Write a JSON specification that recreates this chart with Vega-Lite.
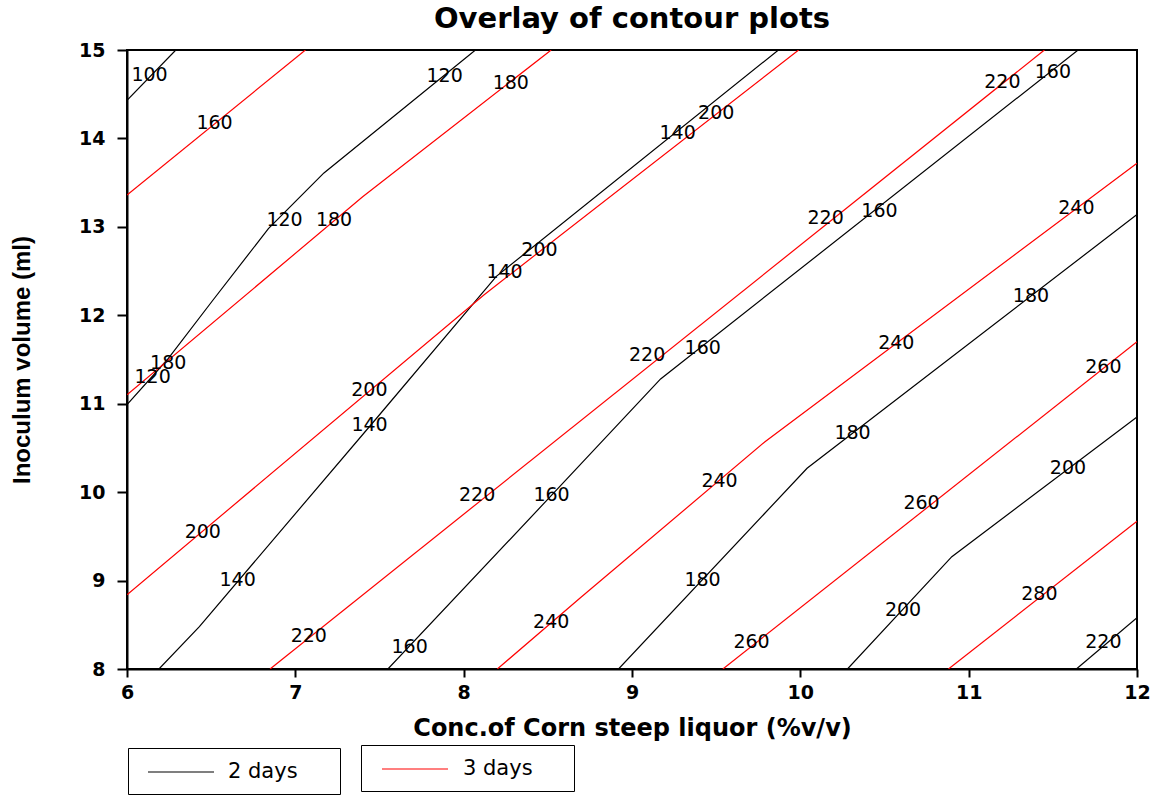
{
  "$schema": "https://vega.github.io/schema/vega-lite/v6.json",
  "width": 1010,
  "height": 619,
  "autosize": "none",
  "padding": {"left": 127, "top": 50, "right": 24, "bottom": 126},
  "background": "white",
  "title": {"text": "Overlay of contour plots", "font": "DejaVu Sans", "fontSize": 29, "fontWeight": "bold", "anchor": "middle", "offset": 7, "color": "black"},
  "config": {
    "view": {"stroke": "black", "strokeWidth": 2},
    "axis": {
      "grid": false,
      "domainColor": "black",
      "domainWidth": 2,
      "tickColor": "black",
      "tickWidth": 2,
      "labelColor": "black",
      "labelFont": "DejaVu Sans",
      "labelFontWeight": "bold",
      "labelFontSize": 19,
      "titleColor": "black",
      "titleFontWeight": "bold"
    }
  },
  "datasets": {
    "black": [
      {"id": "b100", "o": 0, "x": 6, "y": 14.43}, {"id": "b100", "o": 1, "x": 6.29, "y": 15},
      {"id": "b120", "o": 0, "x": 6, "y": 10.99}, {"id": "b120", "o": 1, "x": 6.24, "y": 11.5}, {"id": "b120", "o": 2, "x": 6.51, "y": 12.17}, {"id": "b120", "o": 3, "x": 6.84, "y": 12.98}, {"id": "b120", "o": 4, "x": 7.17, "y": 13.61}, {"id": "b120", "o": 5, "x": 8.07, "y": 15},
      {"id": "b140", "o": 0, "x": 6.19, "y": 8}, {"id": "b140", "o": 1, "x": 6.43, "y": 8.48}, {"id": "b140", "o": 2, "x": 7.48, "y": 10.83}, {"id": "b140", "o": 3, "x": 8.194, "y": 12.44}, {"id": "b140", "o": 4, "x": 9.87, "y": 15},
      {"id": "b160", "o": 0, "x": 7.55, "y": 8}, {"id": "b160", "o": 1, "x": 8.52, "y": 9.96}, {"id": "b160", "o": 2, "x": 9.17, "y": 11.28}, {"id": "b160", "o": 3, "x": 11.65, "y": 15},
      {"id": "b180", "o": 0, "x": 8.92, "y": 8}, {"id": "b180", "o": 1, "x": 10.04, "y": 10.27}, {"id": "b180", "o": 2, "x": 12, "y": 13.14},
      {"id": "b200", "o": 0, "x": 10.28, "y": 8}, {"id": "b200", "o": 1, "x": 10.9, "y": 9.27}, {"id": "b200", "o": 2, "x": 12, "y": 10.85},
      {"id": "b220", "o": 0, "x": 11.64, "y": 8}, {"id": "b220", "o": 1, "x": 12, "y": 8.58}
    ],
    "red": [
      {"id": "r160", "o": 0, "x": 6, "y": 13.36}, {"id": "r160", "o": 1, "x": 7.06, "y": 15},
      {"id": "r180", "o": 0, "x": 6, "y": 11.1}, {"id": "r180", "o": 1, "x": 7.4, "y": 13.34}, {"id": "r180", "o": 2, "x": 8.52, "y": 15},
      {"id": "r200", "o": 0, "x": 6, "y": 8.84}, {"id": "r200", "o": 1, "x": 8.12, "y": 12.23}, {"id": "r200", "o": 2, "x": 9.99, "y": 15},
      {"id": "r220", "o": 0, "x": 6.85, "y": 8}, {"id": "r220", "o": 1, "x": 11.45, "y": 15},
      {"id": "r240", "o": 0, "x": 8.2, "y": 8}, {"id": "r240", "o": 1, "x": 8.69, "y": 8.8}, {"id": "r240", "o": 2, "x": 9.79, "y": 10.57}, {"id": "r240", "o": 3, "x": 12, "y": 13.72},
      {"id": "r260", "o": 0, "x": 9.54, "y": 8}, {"id": "r260", "o": 1, "x": 12, "y": 11.7},
      {"id": "r280", "o": 0, "x": 10.88, "y": 8}, {"id": "r280", "o": 1, "x": 12, "y": 9.67}
    ],
    "labels": [
      {"t": "100", "x": 6.134, "y": 14.72},
      {"t": "120", "x": 7.887, "y": 14.71},
      {"t": "120", "x": 6.936, "y": 13.08},
      {"t": "120", "x": 6.152, "y": 11.3},
      {"t": "140", "x": 6.657, "y": 9.01},
      {"t": "140", "x": 7.441, "y": 10.76},
      {"t": "140", "x": 8.243, "y": 12.49},
      {"t": "140", "x": 9.271, "y": 14.06},
      {"t": "160", "x": 7.679, "y": 8.25},
      {"t": "160", "x": 8.522, "y": 9.97},
      {"t": "160", "x": 9.42, "y": 11.63},
      {"t": "160", "x": 10.47, "y": 13.18},
      {"t": "160", "x": 11.5, "y": 14.75},
      {"t": "180", "x": 9.419, "y": 9.01},
      {"t": "180", "x": 10.31, "y": 10.67},
      {"t": "180", "x": 11.37, "y": 12.22},
      {"t": "200", "x": 10.61, "y": 8.67},
      {"t": "200", "x": 11.59, "y": 10.27},
      {"t": "220", "x": 11.8, "y": 8.31},
      {"t": "160", "x": 6.52, "y": 14.17},
      {"t": "180", "x": 6.245, "y": 11.46},
      {"t": "180", "x": 7.23, "y": 13.08},
      {"t": "180", "x": 8.28, "y": 14.63},
      {"t": "200", "x": 6.45, "y": 9.55},
      {"t": "200", "x": 7.44, "y": 11.16},
      {"t": "200", "x": 8.45, "y": 12.74},
      {"t": "200", "x": 9.5, "y": 14.29},
      {"t": "220", "x": 7.08, "y": 8.37},
      {"t": "220", "x": 8.08, "y": 9.97},
      {"t": "220", "x": 9.09, "y": 11.55},
      {"t": "220", "x": 10.15, "y": 13.1},
      {"t": "220", "x": 11.2, "y": 14.64},
      {"t": "240", "x": 8.52, "y": 8.53},
      {"t": "240", "x": 9.52, "y": 10.13},
      {"t": "240", "x": 10.57, "y": 11.69},
      {"t": "240", "x": 11.64, "y": 13.21},
      {"t": "260", "x": 9.71, "y": 8.31},
      {"t": "260", "x": 10.72, "y": 9.88},
      {"t": "260", "x": 11.8, "y": 11.42},
      {"t": "280", "x": 11.42, "y": 8.85}
    ]
  },
  "encoding": {
    "x": {
      "field": "x", "type": "quantitative",
      "scale": {"domain": [6, 12], "nice": false, "zero": false},
      "axis": {"title": "Conc.of Corn steep liquor (%v/v)", "values": [6, 7, 8, 9, 10, 11, 12], "tickSize": 8, "labelPadding": 6, "titleFont": "DejaVu Sans", "titleFontSize": 24, "titlePadding": 14, "labelFlush": false}
    },
    "y": {
      "field": "y", "type": "quantitative",
      "scale": {"domain": [8, 15], "nice": false, "zero": false},
      "axis": {"title": "Inoculum volume (ml)", "values": [8, 9, 10, 11, 12, 13, 14, 15], "tickSize": 10, "labelPadding": 12, "titleFont": "Liberation Sans", "titleFontSize": 24, "titlePadding": 44, "labelFlush": false}
    }
  },
  "layer": [
    {
      "data": {"name": "black"},
      "mark": {"type": "line", "strokeWidth": 1.2, "clip": true},
      "encoding": {
        "detail": {"field": "id"},
        "order": {"field": "o", "type": "quantitative"},
        "color": {
          "datum": "2 days", "type": "nominal",
          "scale": {"domain": ["2 days"], "range": ["black"]},
          "legend": {"orient": "none", "legendX": 1, "legendY": 698, "title": null, "symbolType": "M-3,0H3M13.13,0", "symbolSize": 484, "symbolStrokeWidth": 1.2, "strokeColor": "black", "padding": 12, "symbolOffset": 29, "labelFont": "DejaVu Sans", "labelFontSize": 21, "labelColor": "black", "labelOffset": 35}
        }
      }
    },
    {
      "data": {"name": "red"},
      "mark": {"type": "line", "strokeWidth": 1.2, "clip": true},
      "encoding": {
        "detail": {"field": "id"},
        "order": {"field": "o", "type": "quantitative"},
        "stroke": {
          "datum": "3 days", "type": "nominal",
          "scale": {"domain": ["3 days"], "range": ["red"]},
          "legend": {"orient": "none", "legendX": 234, "legendY": 695, "title": null, "symbolType": "M-3,0H3M13.13,0", "symbolSize": 484, "symbolStrokeWidth": 1.2, "strokeColor": "black", "padding": 12, "symbolOffset": 30, "labelFont": "DejaVu Sans", "labelFontSize": 21, "labelColor": "black", "labelOffset": 36}
        }
      }
    },
    {
      "data": {"name": "labels"},
      "mark": {"type": "text", "font": "DejaVu Sans", "fontSize": 19, "color": "black", "align": "center", "baseline": "middle"},
      "encoding": {"text": {"field": "t"}}
    }
  ]
}
